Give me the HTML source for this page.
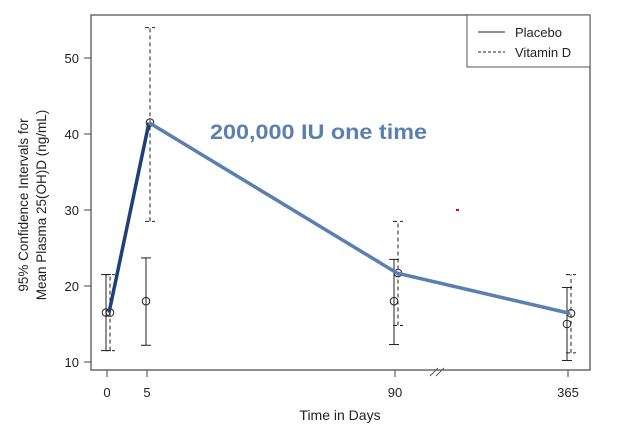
<!DOCTYPE html>
<html><head><meta charset="utf-8"><style>
body{margin:0;background:#fff}
svg text{font-family:"Liberation Sans",Arial,sans-serif;fill:#222}
</style></head><body>
<svg width="621" height="435" xmlns="http://www.w3.org/2000/svg">
<rect x="91" y="15" width="499" height="355" fill="none" stroke="#555" stroke-width="1.3"/>
<g id="axes"></g><g id="marks"></g>
<text x="210" y="139" font-size="21" font-weight="bold" textLength="217" lengthAdjust="spacingAndGlyphs" style="fill:#5a7fb0">200,000 IU one time</text>
<rect x="456" y="209" width="3" height="2" fill="#e00"/>
<g>
<rect x="467" y="15" width="123" height="52" fill="#fff" stroke="#555"/>
<line x1="478" y1="32" x2="505" y2="32" stroke="#222"/>
<text x="515" y="37" font-size="13">Placebo</text>
<line x1="478" y1="52" x2="505" y2="52" stroke="#222" stroke-dasharray="3,2"/>
<text x="515" y="57" font-size="13">Vitamin D</text>
</g>
<text x="340" y="420" font-size="14" text-anchor="middle">Time in Days</text>
<text transform="translate(28,205) rotate(-90)" font-size="13.5" text-anchor="middle">95% Confidence Intervals for</text>
<text transform="translate(46,205) rotate(-90)" font-size="13.5" text-anchor="middle">Mean Plasma 25(OH)D (ng/mL)</text>
</svg>
<script>
const days=[0,5,90,365];
const xPos=[107,147,395,568];
const placeboMean=[16.5,18,18,15];
const placeboLo=[11.5,12.2,12.3,10.2];
const placeboHi=[21.5,23.7,23.5,19.8];
const vitdMean=[16.5,41.5,21.7,16.4];
const vitdLo=[11.5,28.5,14.8,11.2];
const vitdHi=[21.5,54,28.5,21.5];
const yTicks=[10,20,30,40,50];
const NS="http://www.w3.org/2000/svg";
const y=v=>362-(v-10)*7.6;
const x=i=>xPos[i];
function mk(t,a,p){const e=document.createElementNS(NS,t);for(const k in a)e.setAttribute(k,a[k]);p.appendChild(e);return e;}
const ax=document.getElementById('axes'),mg=document.getElementById('marks');
yTicks.forEach(v=>{
 const l=mk('line',{x1:84,x2:91,y1:y(v),y2:y(v),stroke:'#444'},ax);
 
 
 const t=mk('text',{x:79,y:y(v)+5,'font-size':13,'text-anchor':'end'},ax);t.textContent=v;
 
 
});
days.forEach((d,i)=>{
 const l=mk('line',{x1:x(i),x2:x(i),y1:370,y2:377,stroke:'#444'},ax);
 
 
 const t=mk('text',{x:x(i),y:397,'font-size':13,'text-anchor':'middle'},ax);t.textContent=d;
 
 
});
mk('line',{x1:430,y1:376,x2:438,y2:368,stroke:'#555'},ax);
mk('line',{x1:436,y1:376,x2:444,y2:368,stroke:'#555'},ax);
function bar(i,off,m,lo,hi,dash,name){
 const cx=x(i)+off,g=mk('g',{},mg);
 
 
 const s={stroke:'#222','stroke-width':1};if(dash)s['stroke-dasharray']='4,3';
 mk('line',Object.assign({x1:cx,x2:cx,y1:y(lo),y2:y(hi)},s),g);
 mk('line',Object.assign({x1:cx-5,x2:cx+5,y1:y(lo),y2:y(lo)},s),g);
 mk('line',Object.assign({x1:cx-5,x2:cx+5,y1:y(hi),y2:y(hi)},s),g);
 mk('circle',{cx:cx,cy:y(m),r:3.8,fill:'none',stroke:'#222'},g);
}
days.forEach((d,i)=>{
 bar(i,-1,placeboMean[i],placeboLo[i],placeboHi[i],false,'placebo-errorbar');
 bar(i,3,vitdMean[i],vitdLo[i],vitdHi[i],true,'vitamin-d-errorbar');
});
const l1=mk('line',{x1:x(0)+2,y1:y(vitdMean[0]),x2:x(1)+2,y2:y(vitdMean[1]),stroke:'#1e3f78','stroke-width':3.5},mg);


let pts=[1,2,3].map(i=>(x(i)+2)+','+y(vitdMean[i])).join(' ');
const pl=mk('polyline',{points:pts,fill:'none',stroke:'#5a7fb0','stroke-width':3.5},mg);


</script>
</body></html>
